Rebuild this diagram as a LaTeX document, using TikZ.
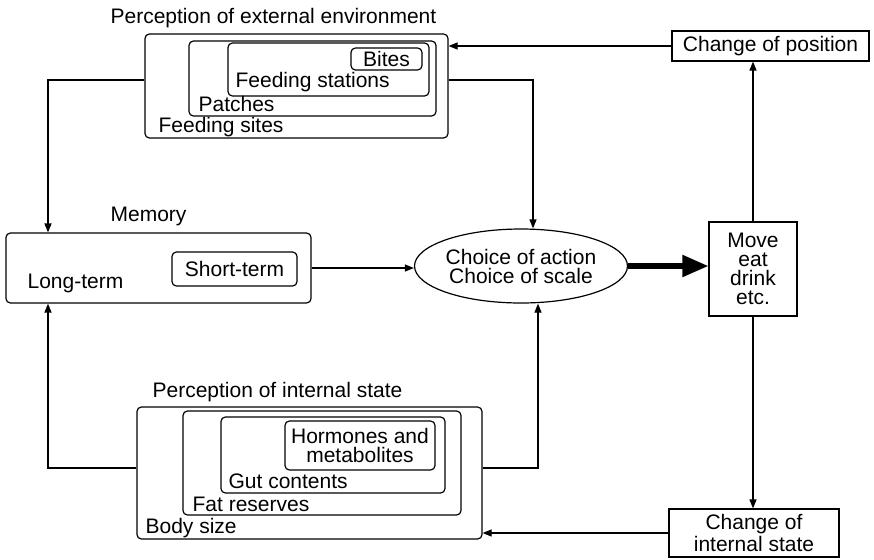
\documentclass[tikz,border=0pt]{standalone}
\usepackage{fontspec}
\setmainfont{Liberation Sans}
\usetikzlibrary{arrows.meta,shapes.geometric,fit}
\begin{document}
\begin{tikzpicture}[x=.5pt,y=-.5pt,line width=.6pt,
  every node/.style={font=\fontsize{10.5}{9.5}\selectfont,inner sep=0pt},
  rbox/.style={draw,rounded corners=2.2pt},
  sbox/.style={draw},
  lbl/.style={anchor=base west},
  arr/.style={-{Triangle[length=4.5pt,width=3.5pt]}}]
  \useasboundingbox (0,0) rectangle (874,559);
  \node[rbox,fit={(145,34)(448,138)}] (sites) {};
  \node[rbox,fit={(189,41)(436,116)}] (patches) {};
  \node[rbox,fit={(228,43)(429,96)}] (stations) {};
  \node[rbox,minimum width=35.5pt,minimum height=11pt] (bites) at (386.5,59) {Bites};
  \node[lbl] (exttitle) at (110,23) {Perception of external environment};
  \node[lbl] (stationslbl) at (235,87) {Feeding stations};
  \node[lbl] (patcheslbl) at (198,111) {Patches};
  \node[lbl] (siteslbl) at (158,132) {Feeding sites};
  \node[rbox,fit={(6,233)(311,303)}] (mem) {};
  \node[rbox,minimum width=62.5pt,minimum height=17pt] (short) at (234.5,269) {Short-term};
  \node[lbl] (memlbl) at (110,221) {Memory};
  \node[lbl] (longlbl) at (27,288) {Long-term};
  \node[rbox,fit={(137,407)(482,539)}] (body) {};
  \node[rbox,fit={(183,411)(461,515)}] (fat) {};
  \node[rbox,fit={(221,417)(445,493)}] (gut) {};
  \node[rbox,minimum width=75pt,minimum height=24.5pt,align=center] (horm) at (360,445.5) {Hormones and\\metabolites};
  \node[lbl] (inttitle) at (152,397) {Perception of internal state};
  \node[lbl] (gutlbl) at (228,488) {Gut contents};
  \node[lbl] (fatlbl) at (192,511) {Fat reserves};
  \node[lbl] (bodylbl) at (145,533) {Body size};
  \node[ellipse,draw,minimum width=99pt,minimum height=37pt,align=center] (choice) at (521,266) {Choice of action\\Choice of scale};
  \node[sbox,minimum width=44pt,minimum height=47pt,align=center] (move) at (753,269) {Move\\eat\\drink\\etc.};
  \node[sbox,minimum width=98.5pt,minimum height=15pt] (chpos) at (770.5,46) {Change of position};
  \node[sbox,minimum width=85pt,minimum height=24pt,align=center] (chint) at (754,533) {Change of\\internal state};
  \draw[arr] ([yshift=3pt]sites.west) -| ([xshift=-55.25pt]mem.north);
  \draw[arr] ([yshift=3pt]sites.east) -| ([xshift=6pt]choice.north);
  \draw[arr] (mem.east) -- (mem.east -| choice.west);
  \draw[-{Triangle[length=13pt,width=10.5pt]},line width=2.6pt] (choice.east) -- (choice.east -| move.west);
  \draw[arr] (move.north) -- (move.north |- chpos.south);
  \draw[arr] (chpos.west) -- (chpos.west -| sites.east);
  \draw[arr] (move.south) -- (move.south |- chint.north);
  \draw[arr] (chint.west) -- (chint.west -| body.east);
  \draw[arr] ([yshift=2.5pt]body.west) -| ([xshift=-55.25pt]mem.south);
  \draw[arr] ([yshift=2.5pt]body.east) -| ([xshift=8.5pt]choice.south);
\end{tikzpicture}
\end{document}
